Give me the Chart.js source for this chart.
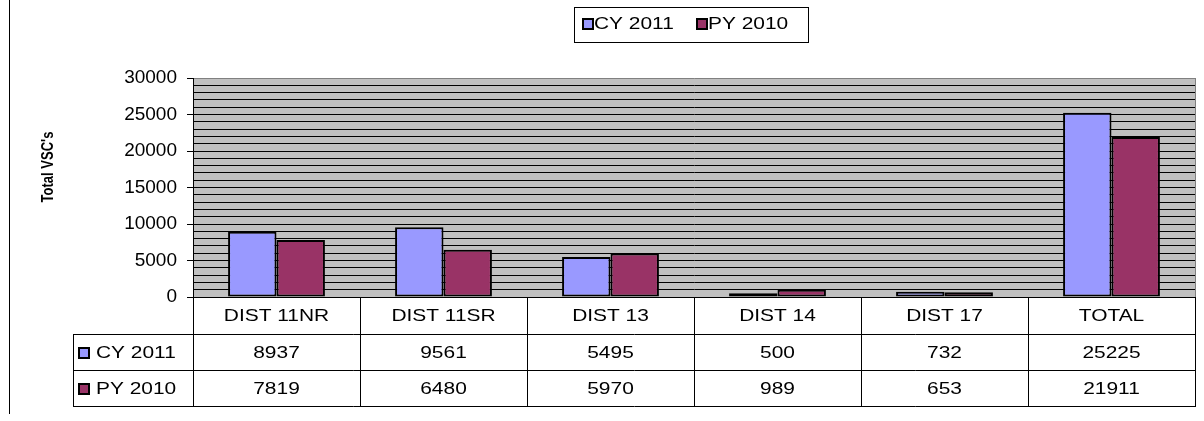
<!DOCTYPE html>
<html>
<head>
<meta charset="utf-8">
<script src="https://cdn.jsdelivr.net/npm/chart.js@4.4.0/dist/chart.umd.min.js"></script>
<style>
 html, body { margin: 0; padding: 0; background: #fff; }
 #wrap { width: 1204px; height: 421px; }
</style>
</head>
<body>
<div id="wrap"><canvas id="c" width="1204" height="421"></canvas></div>
<script>
/* ── DATA ───────────────────────────────────────────────── */
const categories = ['DIST 11NR', 'DIST 11SR', 'DIST 13', 'DIST 14', 'DIST 17', 'TOTAL'];
const cy2011 = [8937, 9561, 5495, 500, 732, 25225];
const py2010 = [7819, 6480, 5970, 989, 653, 21911];
const seriesNames = ['CY 2011', 'PY 2010'];
const seriesColors = ['#9999ff', '#993366'];
const yMax = 30000, yMinor = 1000, yMajor = 5000;
const yTitle = "Total VSC's";

/* ── TEXT HELPERS (excel text is a bit wide) ─────────────── */
const SX = 1.23;
const FONT = '17px "Liberation Sans", Arial, sans-serif';

function sText(ctx, s, x, y, align) {
 ctx.save();
 ctx.font = FONT;
 const w = ctx.measureText(s).width * SX;
 const x0 = align === 'center' ? x - w / 2 : align === 'right' ? x - w : x;
 ctx.translate(x0, y);
 ctx.scale(SX, 1);
 ctx.textAlign = 'left';
 ctx.textBaseline = 'middle';
 ctx.fillStyle = '#000';
 ctx.fillText(s, 0, 0);
 ctx.restore();
}

function swatch(ctx, x, y, color) {
 ctx.save();
 ctx.fillStyle = color;
 ctx.fillRect(x, y - 5, 10, 10);
 ctx.strokeStyle = '#000';
 ctx.lineWidth = 2;
 ctx.strokeRect(x, y - 5, 10, 10);
 ctx.restore();
}

function hLine(ctx, x1, x2, y) {
 ctx.beginPath(); ctx.moveTo(x1, Math.round(y) + .5); ctx.lineTo(x2, Math.round(y) + .5); ctx.stroke();
}
function vLine(ctx, x, y1, y2) {
 ctx.beginPath(); ctx.moveTo(Math.round(x) + .5, y1); ctx.lineTo(Math.round(x) + .5, y2); ctx.stroke();
}

/* ── PLUGIN: plot bg, legend box, data table ─────────────── */
const excelBits = {
 id: 'excelBits',
 beforeDraw(chart) {
 const { ctx, chartArea: a } = chart;
 ctx.save();
 ctx.fillStyle = '#c0c0c0';
 ctx.fillRect(a.left, a.top, a.right - a.left, a.bottom - a.top);
 ctx.restore();
 },
 afterDraw(chart) {
 const { ctx, chartArea: a } = chart;
 const n = categories.length, cw = (a.right - a.left) / n;
 ctx.save();

 // outer frame line on the left
 ctx.strokeStyle = '#000';
 ctx.lineWidth = 1;
 vLine(ctx, 9, 0, 414);

 // plot right border
 ctx.strokeStyle = '#808080';
 vLine(ctx, a.right, a.top, a.bottom);

 // legend
 ctx.strokeStyle = '#000';
 ctx.strokeRect(574.5, 7.5, 234, 35);
 swatch(ctx, 583, 24, seriesColors[0]);
 sText(ctx, seriesNames[0], 594, 24, 'left');
 swatch(ctx, 697, 24, seriesColors[1]);
 sText(ctx, seriesNames[1], 708, 24, 'left');

 // y axis title
 ctx.save();
 ctx.translate(49, 167);
 ctx.rotate(-Math.PI / 2);
 ctx.scale(1, SX);
 ctx.font = 'bold 13px "Liberation Sans", Arial, sans-serif';
 ctx.textAlign = 'center';
 ctx.textBaseline = 'middle';
 ctx.fillStyle = '#000';
 ctx.fillText(yTitle, 0, 0);
 ctx.restore();

 // data table
 const rows = [a.bottom, a.bottom + 37, a.bottom + 73, a.bottom + 109];
 const legL = 73;
 ctx.strokeStyle = '#000';
 hLine(ctx, a.left, a.right + 1, rows[0]);
 hLine(ctx, legL, a.right + 1, rows[1]);
 hLine(ctx, legL, a.right + 1, rows[2]);
 hLine(ctx, legL, a.right + 1, rows[3]);
 vLine(ctx, legL, rows[1], rows[3] + 1);
 for (let i = 0; i <= n; i++) vLine(ctx, a.left + i * cw, rows[0], rows[3] + 1);

 const xs = chart.scales.x;
 categories.forEach((c, i) => {
 const cx = xs.getPixelForValue(i);
 sText(ctx, c, cx, (rows[0] + rows[1]) / 2 + 1, 'center');
 sText(ctx, String(cy2011[i]), cx, (rows[1] + rows[2]) / 2 + 1, 'center');
 sText(ctx, String(py2010[i]), cx, (rows[2] + rows[3]) / 2 + 1, 'center');
 });
 swatch(ctx, 79, (rows[1] + rows[2]) / 2 + 1, seriesColors[0]);
 sText(ctx, seriesNames[0], 96, (rows[1] + rows[2]) / 2 + 1, 'left');
 swatch(ctx, 79, (rows[2] + rows[3]) / 2 + 1, seriesColors[1]);
 sText(ctx, seriesNames[1], 96, (rows[2] + rows[3]) / 2 + 1, 'left');

 ctx.restore();
 }
};

/* ── CHART ──────────────────────────────────────────────── */
const barStyle = { borderColor: '#000', borderWidth: 2, borderSkipped: false, categoryPercentage: 0.58, barPercentage: 1 };

new Chart(document.getElementById('c').getContext('2d'), {
 type: 'bar',
 data: {
 labels: categories,
 datasets: [
 { label: seriesNames[0], data: cy2011, backgroundColor: seriesColors[0], ...barStyle },
 { label: seriesNames[1], data: py2010, backgroundColor: seriesColors[1], ...barStyle }
 ]
 },
 options: {
 responsive: false,
 animation: false,
 devicePixelRatio: 1,
 layout: { padding: { left: 0, top: 78, right: 9, bottom: 124 } },
 plugins: { legend: { display: false }, tooltip: { enabled: false } },
 scales: {
 x: { display: false },
 y: {
 min: 0,
 max: yMax,
 afterFit: s => { s.width = 193; },
 border: { display: true, color: '#000', width: 1 },
 grid: {
 color: c => c.tick && c.tick.value === yMax ? '#808080' : '#000',
 tickColor: c => c.tick && c.tick.value % yMajor === 0 ? '#000' : 'rgba(0,0,0,0)',
 tickLength: 6,
 lineWidth: 1
 },
 ticks: {
 stepSize: yMinor,
 autoSkip: false,
 padding: 10,
 color: '#000',
 font: { family: '"Liberation Sans", Arial, sans-serif', size: 19 },
 callback: v => v % yMajor === 0 ? v : ''
 }
 }
 }
 },
 plugins: [excelBits]
});
</script>
</body>
</html>
